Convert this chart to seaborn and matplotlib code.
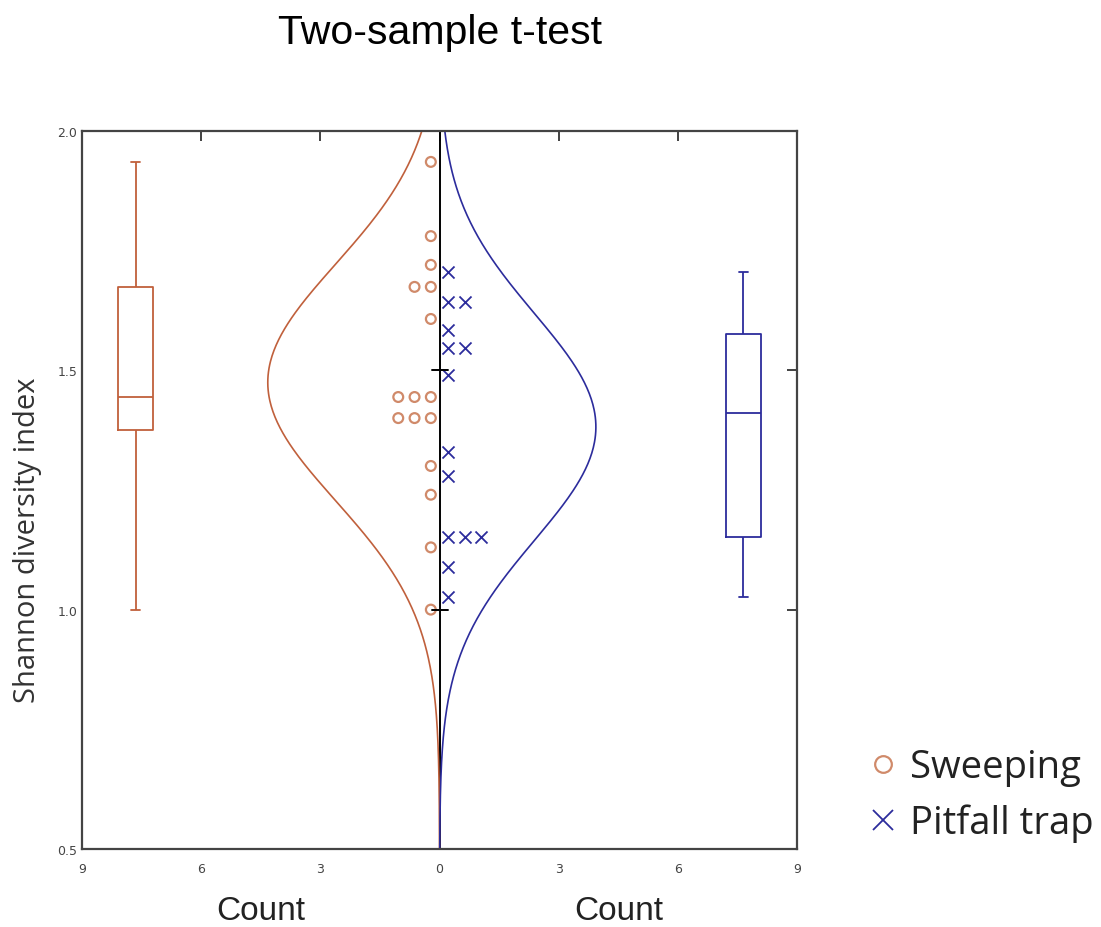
import numpy as np
import pandas as pd
import matplotlib
matplotlib.use("Agg")
import matplotlib.pyplot as plt
import seaborn as sns
from matplotlib.lines import Line2D

# Shannon diversity index per sample
sweeping = [1.935, 1.78, 1.72, 1.674, 1.674, 1.607, 1.444, 1.444, 1.444,
            1.40, 1.40, 1.40, 1.30, 1.24, 1.13, 1.00]
pitfall = [1.705, 1.643, 1.643, 1.584, 1.547, 1.547, 1.49, 1.33, 1.28,
           1.152, 1.152, 1.152, 1.09, 1.027]
methods = ["Sweeping", "Pitfall trap"]
count_ticks = [-9, -6, -3, 0, 3, 6, 9]
count_labels = ["9", "6", "3", "0", "3", "6", "9"]
y_ticks = [0.5, 1.0, 1.5, 2.0]

orange = "#c0603c"
orange_pt = "#d08a6a"
blue = "#2c2c9c"
bin_width = 0.167   # width used to scale the normal curve to counts
box_pos = 7.65      # where the two boxes sit on the count axis
box_w = 0.88


def dot_stack(values, side):
    # stack equal values sideways like a dot histogram
    seen = {}
    xs = []
    for v in values:
        k = seen.get(v, 0)
        seen[v] = k + 1
        xs.append(side * (0.22 + 0.41 * k))
    return xs


frames = []
for name, vals, side in [("Sweeping", sweeping, -1), ("Pitfall trap", pitfall, 1)]:
    frames.append(pd.DataFrame({"method": name, "value": vals,
                                "x": dot_stack(vals, side), "pos": side * box_pos}))
df = pd.concat(frames, ignore_index=True)

sns.set_style("white")
fig = plt.figure(figsize=(11.01, 9.28), dpi=100)
ax = fig.add_axes([0.0745, 0.084, 0.6495, 0.774])

ax.axvline(0, color="black", lw=1.4, zorder=1)

# fitted normal curves
yy = np.linspace(0.5, 2.0, 400)
for vals, side, col in [(sweeping, -1, orange), (pitfall, 1, blue)]:
    arr = np.array(vals)
    mu, sd = arr.mean(), arr.std(ddof=1)
    dens = len(arr) * bin_width / (sd * np.sqrt(2 * np.pi)) * np.exp(-0.5 * ((yy - mu) / sd) ** 2)
    sns.lineplot(x=side * dens, y=yy, sort=False, estimator=None, color=col, lw=1.2, ax=ax, zorder=2)

sns.scatterplot(data=df[df.method == "Sweeping"], x="x", y="value", marker="o", s=50,
                facecolor="none", edgecolor=orange_pt, linewidth=1.6, ax=ax, zorder=3)
sns.scatterplot(data=df[df.method == "Pitfall trap"], x="x", y="value", marker="x", s=75,
                color=blue, linewidth=1.3, ax=ax, zorder=3)

sns.boxplot(data=df, x="pos", y="value", hue="method", native_scale=True, dodge=False,
            palette={"Sweeping": orange, "Pitfall trap": blue}, fill=False,
            width=box_w / (2 * box_pos), linewidth=1.3, whis=1.5, showfliers=False,
            legend=False, ax=ax)

# shorten the whisker caps
for ln in ax.lines:
    xd = np.asarray(ln.get_xdata(), dtype=float)
    yd = np.asarray(ln.get_ydata(), dtype=float)
    if len(xd) == 2 and yd[0] == yd[1] and abs(xd.mean()) > 5 and abs(xd[1] - xd[0]) < box_w * 0.7:
        c = xd.mean()
        ln.set_xdata([c - 0.11, c + 0.11])

ax.set_xlim(-9, 9)
ax.set_ylim(0.5, 2.0)
ax.set_xticks(count_ticks)
ax.set_xticklabels(count_labels)
ax.set_yticks(y_ticks)
ax.set_yticklabels([f"{t:.1f}" for t in y_ticks])
ax.tick_params(axis="both", direction="in", length=7, width=1.3, colors="#333333",
               labelsize=9, labelcolor="#444444", top=True, right=True)
ax.tick_params(axis="x", pad=9)
ax.set_xlabel("")
ax.set_ylabel("Shannon diversity index", fontsize=21, family="Open Sans", color="#333333")
ax.yaxis.set_label_coords(-0.056, 0.432)
for s in ax.spines.values():
    s.set_visible(True)
    s.set_color("#444444")
    s.set_linewidth(1.6)

# centre ticks on the zero line
for t in [1.0, 1.5]:
    ax.plot([-0.2, 0.2], [t, t], color="black", lw=1.4, zorder=4)

for xc in [-4.5, 4.5]:
    ax.text(xc, -0.085, "Count", transform=ax.get_xaxis_transform(), ha="center", va="center",
            fontsize=24, family="Liberation Sans", color="#222222")

fig.text(440 / 1101, 1 - 33 / 928, "Two-sample t-test", ha="center", va="center",
         fontsize=29.5, family="Liberation Sans", color="black")

handles = [Line2D([], [], marker="o", ls="none", markersize=12, markerfacecolor="none",
                  markeredgecolor=orange_pt, markeredgewidth=1.6),
           Line2D([], [], marker="x", ls="none", markersize=15, color=blue, markeredgewidth=1.3)]
fig.legend(handles, methods, loc="center left", bbox_to_anchor=(0.755, 0.142), frameon=False,
           prop={"family": "Open Sans", "size": 27.5}, handletextpad=0.25, labelspacing=0.45,
           handlelength=0.9, labelcolor="#222222")

fig.savefig("out.png", dpi=100)
